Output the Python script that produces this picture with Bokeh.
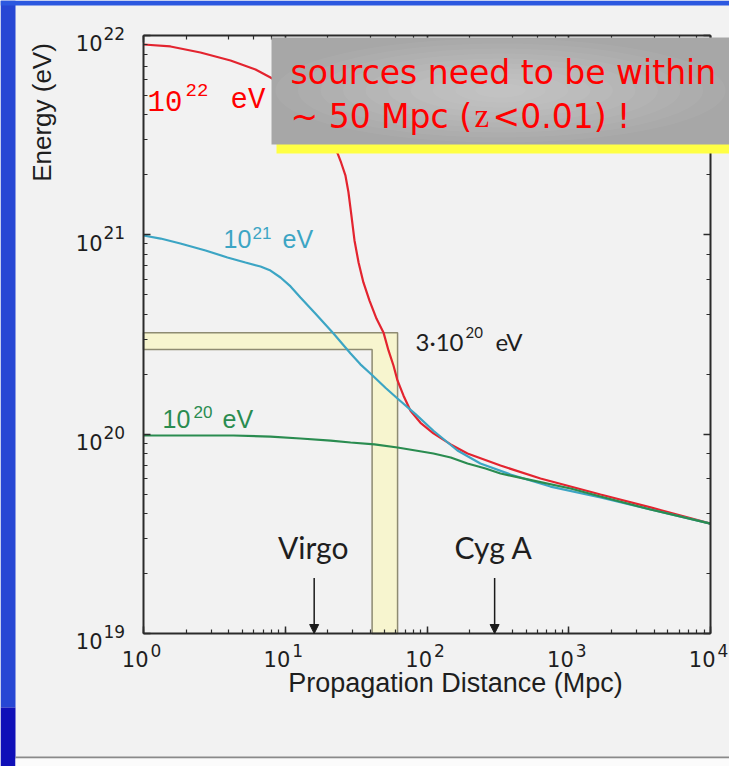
import math
from bokeh.plotting import figure
from bokeh.models import Range1d, LogAxis, Label, Arrow, NormalHead, CustomJSTickFormatter
from bokeh.core.properties import value
from bokeh.embed import file_html
from bokeh.resources import INLINE

# ---------------- data ----------------
red_dist = [1, 1.55, 2.52, 4.11, 6.17, 7.87, 10.0, 12.8, 15.6, 18.3, 20.9, 23.4,
            24.8, 26.6, 27.9, 29.3, 30.8, 32.9, 35.6, 39.3, 44.0, 49.3, 53.5, 58.0,
            61.9, 68.3, 76.5, 90.0, 111, 147, 193, 330, 632, 1675, 3775, 10000]
red_energy = [9.01e21, 8.81e21, 8.22e21, 7.49e21, 6.75e21, 6.16e21, 5.55e21, 4.89e21, 4.20e21, 3.58e21, 3.04e21, 2.56e21,
              2.30e21, 1.98e21, 1.64e21, 1.25e21, 9.37e20, 7.26e20, 5.77e20, 4.68e20, 3.80e20, 3.24e20, 2.63e20, 2.21e20,
              1.86e20, 1.56e20, 1.31e20, 1.14e20, 1.01e20, 8.88e19, 8.00e19, 6.96e19, 5.99e19, 4.98e19, 4.29e19, 3.56e19]

cyan_dist = [1, 1.32, 1.82, 2.74, 3.91, 5.24, 6.69, 7.87, 9.26, 10.9, 12.8, 16.3, 21.9, 28.9,
             33.9, 41.3, 50.9, 61.9, 83.0, 111, 164, 238, 388, 743, 1675, 3775, 10000]
cyan_energy = [9.92e20, 9.58e20, 9.05e20, 8.35e20, 7.70e20, 7.26e20, 6.94e20, 6.62e20, 6.11e20, 5.51e20, 4.85e20,
               4.03e20, 3.20e20, 2.54e20, 2.24e20, 1.97e20, 1.71e20, 1.51e20, 1.26e20, 1.04e20, 8.28e19, 7.13e19,
               6.28e19, 5.46e19, 4.81e19, 4.19e19, 3.56e19]

green_dist = [1, 2.15, 4.31, 7.87, 12.8, 20.9, 28.9, 42.6, 61.9, 83.0, 111, 147, 193, 259, 330, 564,
              1029, 1675, 3775, 10000]
green_energy = [9.85e19, 9.85e19, 9.85e19, 9.73e19, 9.51e19, 9.29e19, 9.08e19, 8.88e19, 8.57e19, 8.28e19, 8.00e19,
                7.64e19, 7.13e19, 6.73e19, 6.35e19, 5.85e19, 5.34e19, 4.87e19, 4.19e19, 3.56e19]

band_dist = [41, 62]              # inner / outer edge of the vertical strip (Mpc)
band_energy = [2.66e20, 3.23e20]  # inner / outer edge of the horizontal strip (eV)

source_names = ["Virgo", "Cyg A"]
source_dist = [16, 300]
arrow_top_energy = 1.9e19

x_ticks = [1, 10, 100, 1000, 10000]
x_exps = ["0", "1", "2", "3", "4"]
y_ticks = [1e19, 1e20, 1e21, 1e22]
y_exps = ["19", "20", "21", "22"]
x_lo, x_hi = 1, 1e4
y_lo, y_hi = 1e19, 1e22

RED = "#e3242f"
CYAN = "#3ca5c4"
GREEN = "#2a8c50"
INK = "#1e1e1e"

# ---------------- layout: the frame fills the whole canvas ----------------
W, H = 729, 766
X0, Y0 = 143, 35        # pixel of (1 Mpc, 1e22 eV)
X_DEC = 141.75          # px per decade (x)
Y_DEC = 598 / 3.0       # px per decade (y)

# distance from the em-box middle to the alphabetic baseline, per font (fraction of size)
MID = {"Liberation Sans": 0.3465, "DejaVu Sans": 0.346, "Lato": 0.387,
       "Liberation Mono": 0.2665, "Liberation Serif": 0.3375}


def X(px):   # canvas pixel -> data x
    return 10 ** ((px - X0) / X_DEC)


def Y(py):   # canvas pixel -> data y
    return 10 ** (22 - (py - Y0) / Y_DEC)


def tick_px(v):
    return X0 + math.log10(v) * X_DEC


def tick_py(v):
    return Y0 + (22 - math.log10(v)) * Y_DEC


p = figure(width=W, height=H, x_axis_type="log", y_axis_type="log",
           x_range=Range1d(X(0), X(W)), y_range=Range1d(Y(H), Y(0)),
           output_backend="svg", toolbar_location=None,
           min_border=0, min_border_left=0, min_border_right=0, min_border_top=0, min_border_bottom=0,
           background_fill_color="#f2f2f2", border_fill_color="#f2f2f2", outline_line_color=None)
p.grid.visible = False

blank = CustomJSTickFormatter(code="return ''")


def style_axis(ax, loc, bounds):
    ax.fixed_location = loc
    ax.bounds = bounds
    ax.axis_line_width = 2
    ax.axis_line_color = "#2b2b2b"
    ax.major_tick_in = 7
    ax.major_tick_out = 0
    ax.minor_tick_in = 4
    ax.minor_tick_out = 0
    ax.major_tick_line_width = 1.5
    ax.minor_tick_line_width = 1.2
    ax.major_tick_line_color = "#2b2b2b"
    ax.minor_tick_line_color = "#2b2b2b"
    ax.formatter = blank
    ax.major_label_standoff = 0
    ax.axis_label = None


# ---------------- slide decorations ----------------
p.quad(left=[X(0)], right=[X(15)], top=[Y(0)], bottom=[Y(707)], fill_color="#2747d4", line_color=None)
p.quad(left=[X(0)], right=[X(15)], top=[Y(707)], bottom=[Y(H)], fill_color="#1010b8", line_color=None)
p.quad(left=[X(0)], right=[X(W)], top=[Y(0)], bottom=[Y(5)], fill_color="#2c58e0", line_color=None)
p.quad(left=[X(15)], right=[X(W)], top=[Y(756)], bottom=[Y(758)], fill_color="#8a8a8a", line_color=None)
p.quad(left=[X(15)], right=[X(W)], top=[Y(758)], bottom=[Y(H)], fill_color="#fbfbfb", line_color=None)

# ---------------- yellow L band ----------------
p.patch(x=[x_lo, band_dist[1], band_dist[1], band_dist[0], band_dist[0], x_lo],
        y=[band_energy[1], band_energy[1], y_lo, y_lo, band_energy[0], band_energy[0]],
        fill_color="#f7f5cf", line_color="#8e8b72", line_width=1.5)

# ---------------- curves ----------------
p.line(red_dist, red_energy, line_color=RED, line_width=2.2)
p.line(cyan_dist, cyan_energy, line_color=CYAN, line_width=2.2)
p.line(green_dist, green_energy, line_color=GREEN, line_width=2.2)

# ---------------- axes (box with inward ticks) ----------------
style_axis(p.xaxis[0], y_lo, (x_lo, x_hi))
style_axis(p.yaxis[0], x_lo, (y_lo, y_hi))
top_axis = LogAxis()
style_axis(top_axis, y_hi, (x_lo, x_hi))
p.add_layout(top_axis, "above")
right_axis = LogAxis()
style_axis(right_axis, x_hi, (y_lo, y_hi))
p.add_layout(right_axis, "right")

# ---------------- source arrows ----------------
for d in source_dist:
    p.add_layout(Arrow(end=NormalHead(size=9, fill_color="#1a1a1a", line_color="#1a1a1a"),
                       x_start=d, y_start=arrow_top_energy, x_end=d, y_end=y_lo,
                       line_color="#1a1a1a", line_width=1.5))


def lab(px, base, text, font, size, color, align="left", angle=0.0, middle=None):
    """Place text so that its alphabetic baseline sits at canvas pixel `base`."""
    py = middle if middle is not None else base - MID[font] * size
    p.add_layout(Label(x=X(px), y=Y(py), text=text, text_font=font, text_font_size=f"{size}px",
                       text_color=color, text_align=align, text_baseline="middle", angle=angle))


SANS = "Liberation Sans"
TICK = "DejaVu Sans"

# tick labels
for v, e in zip(y_ticks, y_exps):
    ty = tick_py(v)
    lab(102, ty + 15, "10", TICK, 21, INK, align="right")
    lab(103, ty + 4, e, TICK, 17, INK)
for v, e in zip(x_ticks, x_exps):
    tx = tick_px(v)
    lab(tx + 5, 666, "10", TICK, 21, INK, align="right")
    lab(tx + 7, 656, e, TICK, 17, INK)

# axis titles
lab(41, None, "Energy (eV)", SANS, 26, INK, align="center", angle=math.pi / 2, middle=112)
lab(455, 692, "Propagation Distance (Mpc)", SANS, 27, INK, align="center")

# curve labels
MONO = "Liberation Mono"
lab(147, 108, "10", MONO, 29, "#ff0000")
lab(185, 95, "22", MONO, 19, "#ff0000")
lab(230, 108, "eV", MONO, 29, "#ff0000")

lab(223, 247, "10", SANS, 25, CYAN)
lab(252, 238, "21", SANS, 17, CYAN)
lab(282, 247, "eV", SANS, 25, CYAN)

lab(162, 427, "10", SANS, 25, GREEN)
lab(193, 417, "20", SANS, 17, GREEN)
lab(222, 427, "eV", SANS, 25, GREEN)

HUM = "Lato"
lab(415, 350, "3·10", HUM, 24, INK)
lab(465, 338, "20", HUM, 15, INK)
lab(495, 350, "eV", HUM, 24, INK)

for name, d in zip(source_names, source_dist):
    lab(tick_px(d) - 1, 558, name, HUM, 30, INK, align="center")

# ---------------- callout box (drawn above everything) ----------------
p.quad(left=[X(276)], right=[X(W)], top=[Y(46)], bottom=[Y(153)],
       fill_color="#ffff44", line_color=None, level="overlay")
p.quad(left=[X(271)], right=[X(W)], top=[Y(37)], bottom=[Y(144)],
       fill_color="#a7a7a7", line_color=None, level="overlay")
ell_w = [450, 405, 360, 315, 270, 225, 180, 135, 90, 50]
ell_h = [104, 94, 84, 74, 64, 54, 44, 34, 24, 14]
p.ellipse(x=[X(500)] * len(ell_w), y=[Y(90)] * len(ell_w), width=ell_w, height=ell_h,
          width_units="screen", height_units="screen",
          fill_color="white", fill_alpha=0.045, line_color=None, level="overlay")

CALL = "DejaVu Sans"
for px, base, txt, fnt in [(290, 83, "sources need to be within", CALL),
                           (290, 127, "~ 50 Mpc (", CALL),
                           (474, 127, "z", "Liberation Serif"),
                           (492, 127, "<0.01) !", CALL)]:
    p.text(x=[X(px)], y=[Y(base - MID[fnt] * 33)], text=[txt], text_font=value(fnt),
           text_font_size="33px", text_color="#ff0000", text_baseline="middle", level="overlay")

open("out.html", "w").write(file_html(p, INLINE))
